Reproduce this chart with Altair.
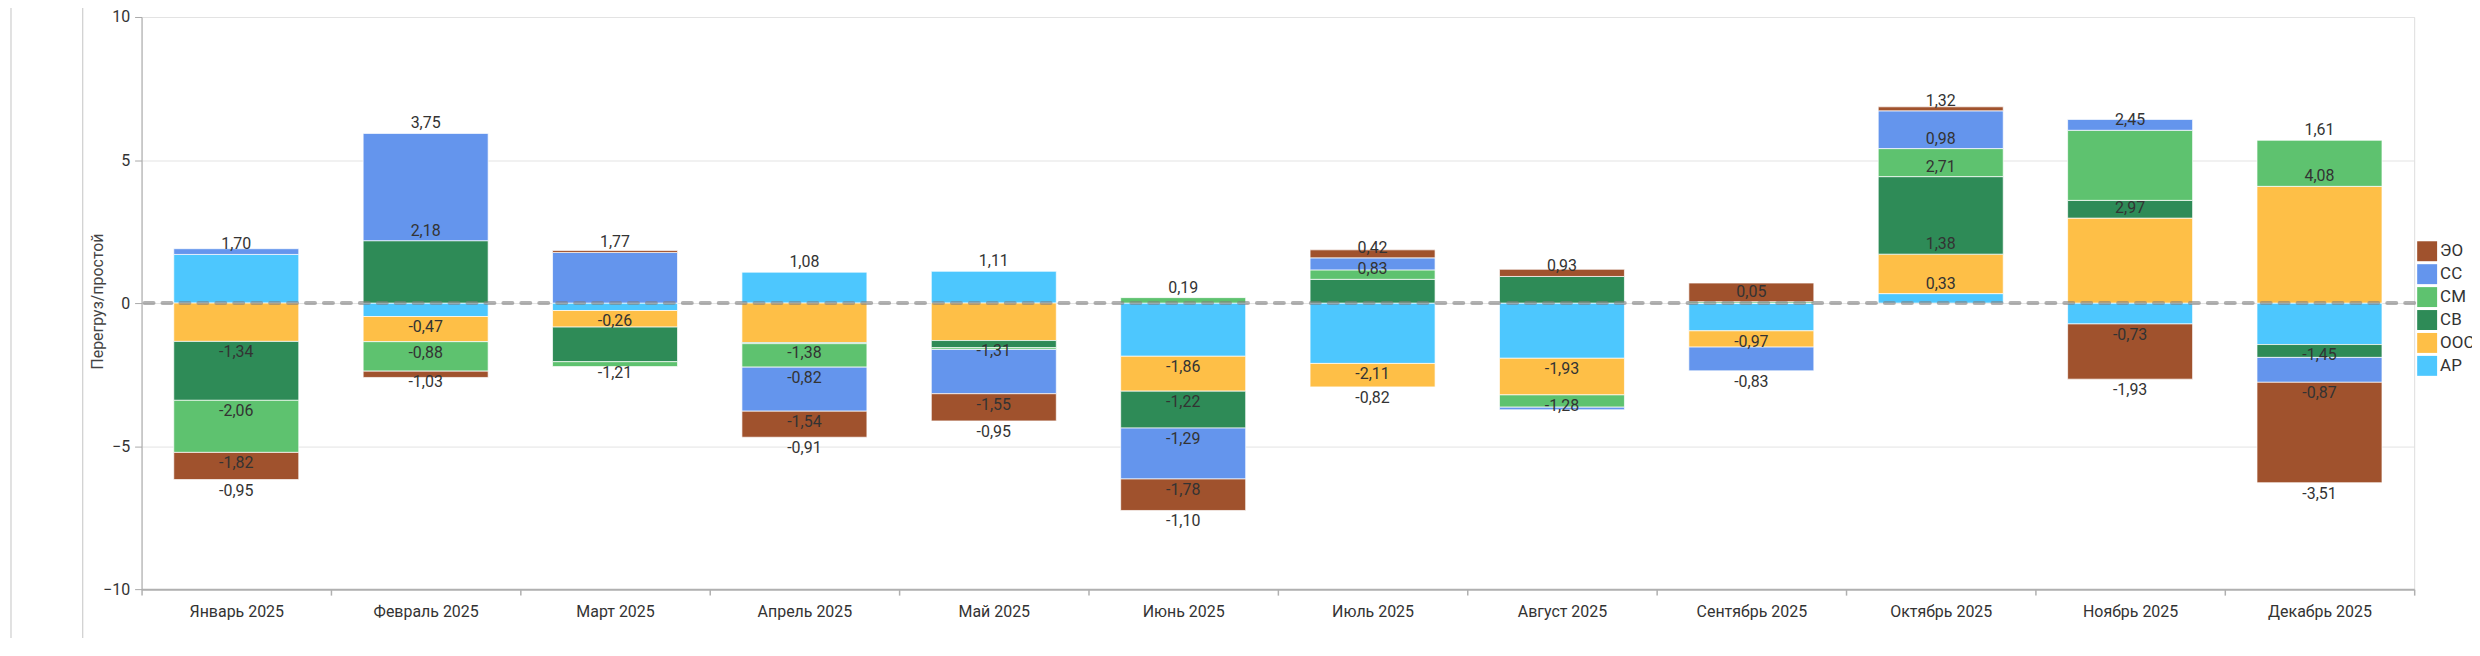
import altair as alt
import pandas as pd

months = ["Январь 2025", "Февраль 2025", "Март 2025", "Апрель 2025", "Май 2025", "Июнь 2025",
          "Июль 2025", "Август 2025", "Сентябрь 2025", "Октябрь 2025", "Ноябрь 2025", "Декабрь 2025"]

# stacking order, from zero outwards
series = ["АР", "ООС", "СВ", "СМ", "СС", "ЭО"]
legend_order = ["ЭО", "СС", "СМ", "СВ", "ООС", "АР"]
legend_colors = ["#A0522D", "#6495ED", "#5EC26F", "#2E8B57", "#FEBF47", "#4DC7FE"]

ar  = [1.70, -0.47, -0.26, 1.08, 1.11, -1.86, -2.11, -1.93, -0.97, 0.33, -0.73, -1.45]
oos = [-1.34, -0.88, -0.58, -1.38, -1.31, -1.22, -0.82, -1.28, -0.57, 1.38, 2.97, 4.08]
sv  = [-2.06, 2.18, -1.21, -0.04, -0.25, -1.29, 0.83, 0.93, 0.00, 2.71, 0.62, -0.45]
sm  = [-1.82, -1.03, -0.17, -0.82, -0.06, 0.19, 0.33, -0.43, 0.05, 0.98, 2.45, 1.61]
ss  = [0.20, 3.75, 1.77, -1.54, -1.55, -1.78, 0.42, -0.09, -0.83, 1.32, 0.38, -0.87]
eo  = [-0.95, -0.22, 0.07, -0.91, -0.95, -1.10, 0.28, 0.25, 0.65, 0.14, -1.93, -3.51]

# which value labels are visible in the original (1 = shown)
show_ar  = [1, 1, 1, 1, 1, 1, 1, 1, 1, 1, 1, 1]
show_oos = [1, 1, 0, 1, 1, 1, 1, 1, 0, 1, 1, 1]
show_sv  = [1, 1, 1, 0, 0, 1, 1, 1, 0, 1, 0, 0]
show_sm  = [1, 1, 0, 1, 0, 1, 0, 0, 1, 1, 1, 1]
show_ss  = [0, 1, 1, 1, 1, 1, 1, 0, 1, 1, 0, 1]
show_eo  = [1, 0, 0, 1, 1, 1, 0, 0, 0, 0, 1, 1]

values = {"АР": ar, "ООС": oos, "СВ": sv, "СМ": sm, "СС": ss, "ЭО": eo}
shows = {"АР": show_ar, "ООС": show_oos, "СВ": show_sv, "СМ": show_sm, "СС": show_ss, "ЭО": show_eo}

rows = []
for si, s in enumerate(series):
    for mi, m in enumerate(months):
        v = values[s][mi]
        rows.append({
            "month": m,
            "series": s,
            "ord": si,
            "value": v,
            "show": shows[s][mi],
            "label": f"{v:.2f}".replace(".", ","),
        })
df = pd.DataFrame(rows)

FONT = "Roboto"

base = alt.Chart(df).transform_stack(
    stack="value",
    groupby=["month"],
    sort=[alt.SortField("ord", order="ascending")],
    as_=["v0", "v1"],
    offset="zero",
)

x_enc = alt.X(
    "month:N",
    sort=months,
    scale=alt.Scale(paddingInner=0, paddingOuter=0),
    axis=alt.Axis(
        title=None, labelAngle=0, tickBand="extent", grid=False,
        domainColor="#b0b0b0", domainWidth=2, tickColor="#b0b0b0", tickSize=6, tickWidth=1.5,
        labelPadding=8, labelFontSize=16, labelFont=FONT, labelColor="#333333",
    ),
)

y_scale = alt.Scale(domain=[-10, 10], nice=False, zero=False)

bars = base.mark_bar(
    width=alt.RelativeBandSize(0.66), stroke="white", strokeWidth=1, strokeOpacity=0.7
).encode(
    x=x_enc,
    y=alt.Y(
        "v0:Q",
        scale=y_scale,
        axis=alt.Axis(
            values=[-10, -5, 0, 5, 10], title="Перегруз/простой",
            grid=True, gridColor="#e3e3e3", gridWidth=1,
            domainColor="#aaaaaa", tickColor="#aaaaaa", tickSize=7,
            labelPadding=5, labelFontSize=16, labelFont=FONT, labelColor="#333333",
            titleFont=FONT, titleFontSize=16, titleFontWeight="normal", titleColor="#444444",
            titleX=-44, titleY=285, titleAngle=270, titleAlign="center", titleBaseline="middle",
        ),
    ),
    y2="v1:Q",
    color=alt.Color(
        "series:N",
        scale=alt.Scale(domain=legend_order, range=legend_colors),
        legend=alt.Legend(
            title=None, orient="none", legendX=2283, legendY=225, padding=0,
            symbolType="square", symbolSize=400, symbolStrokeWidth=0,
            labelFont=FONT, labelFontSize=17, labelColor="#333333",
            rowPadding=3, labelOffset=3,
        ),
    ),
)

zero_line = alt.Chart(pd.DataFrame({"z": [0]})).mark_rule(
    color="#7f7f7f", opacity=0.6, strokeWidth=4, strokeDash=[9, 9], strokeCap="round"
).encode(y=alt.Y("z:Q", scale=y_scale))

labels_pos = base.transform_filter("datum.show == 1 && datum.value >= 0").mark_text(
    font=FONT, fontSize=16, color="#333333", baseline="middle", align="center", dy=-10
).encode(x=alt.X("month:N", sort=months), y=alt.Y("v1:Q", scale=y_scale), text="label:N")

labels_neg = base.transform_filter("datum.show == 1 && datum.value < 0").mark_text(
    font=FONT, fontSize=16, color="#333333", baseline="middle", align="center", dy=11
).encode(x=alt.X("month:N", sort=months), y=alt.Y("v1:Q", scale=y_scale), text="label:N")

# page frame lines at the left of the widget
frame1 = alt.Chart(pd.DataFrame({"a": [0]})).mark_rule(color="#c4c4c4", strokeWidth=1).encode(
    x=alt.value(-131), y=alt.value(-20), y2=alt.value(700)
)
frame2 = alt.Chart(pd.DataFrame({"a": [0]})).mark_rule(color="#c4c4c4", strokeWidth=1).encode(
    x=alt.value(-59), y=alt.value(-20), y2=alt.value(700)
)

chart = alt.layer(bars, zero_line, labels_pos, labels_neg, frame1, frame2).properties(
    width=2280,
    height=574,
    autosize=alt.AutoSizeParams(type="none"),
    padding={"left": 134, "top": 8, "right": 58, "bottom": 48},
).configure_view(stroke=None).configure(background="white")

chart.save("out.html", embed_options={"renderer": "svg", "actions": False})
